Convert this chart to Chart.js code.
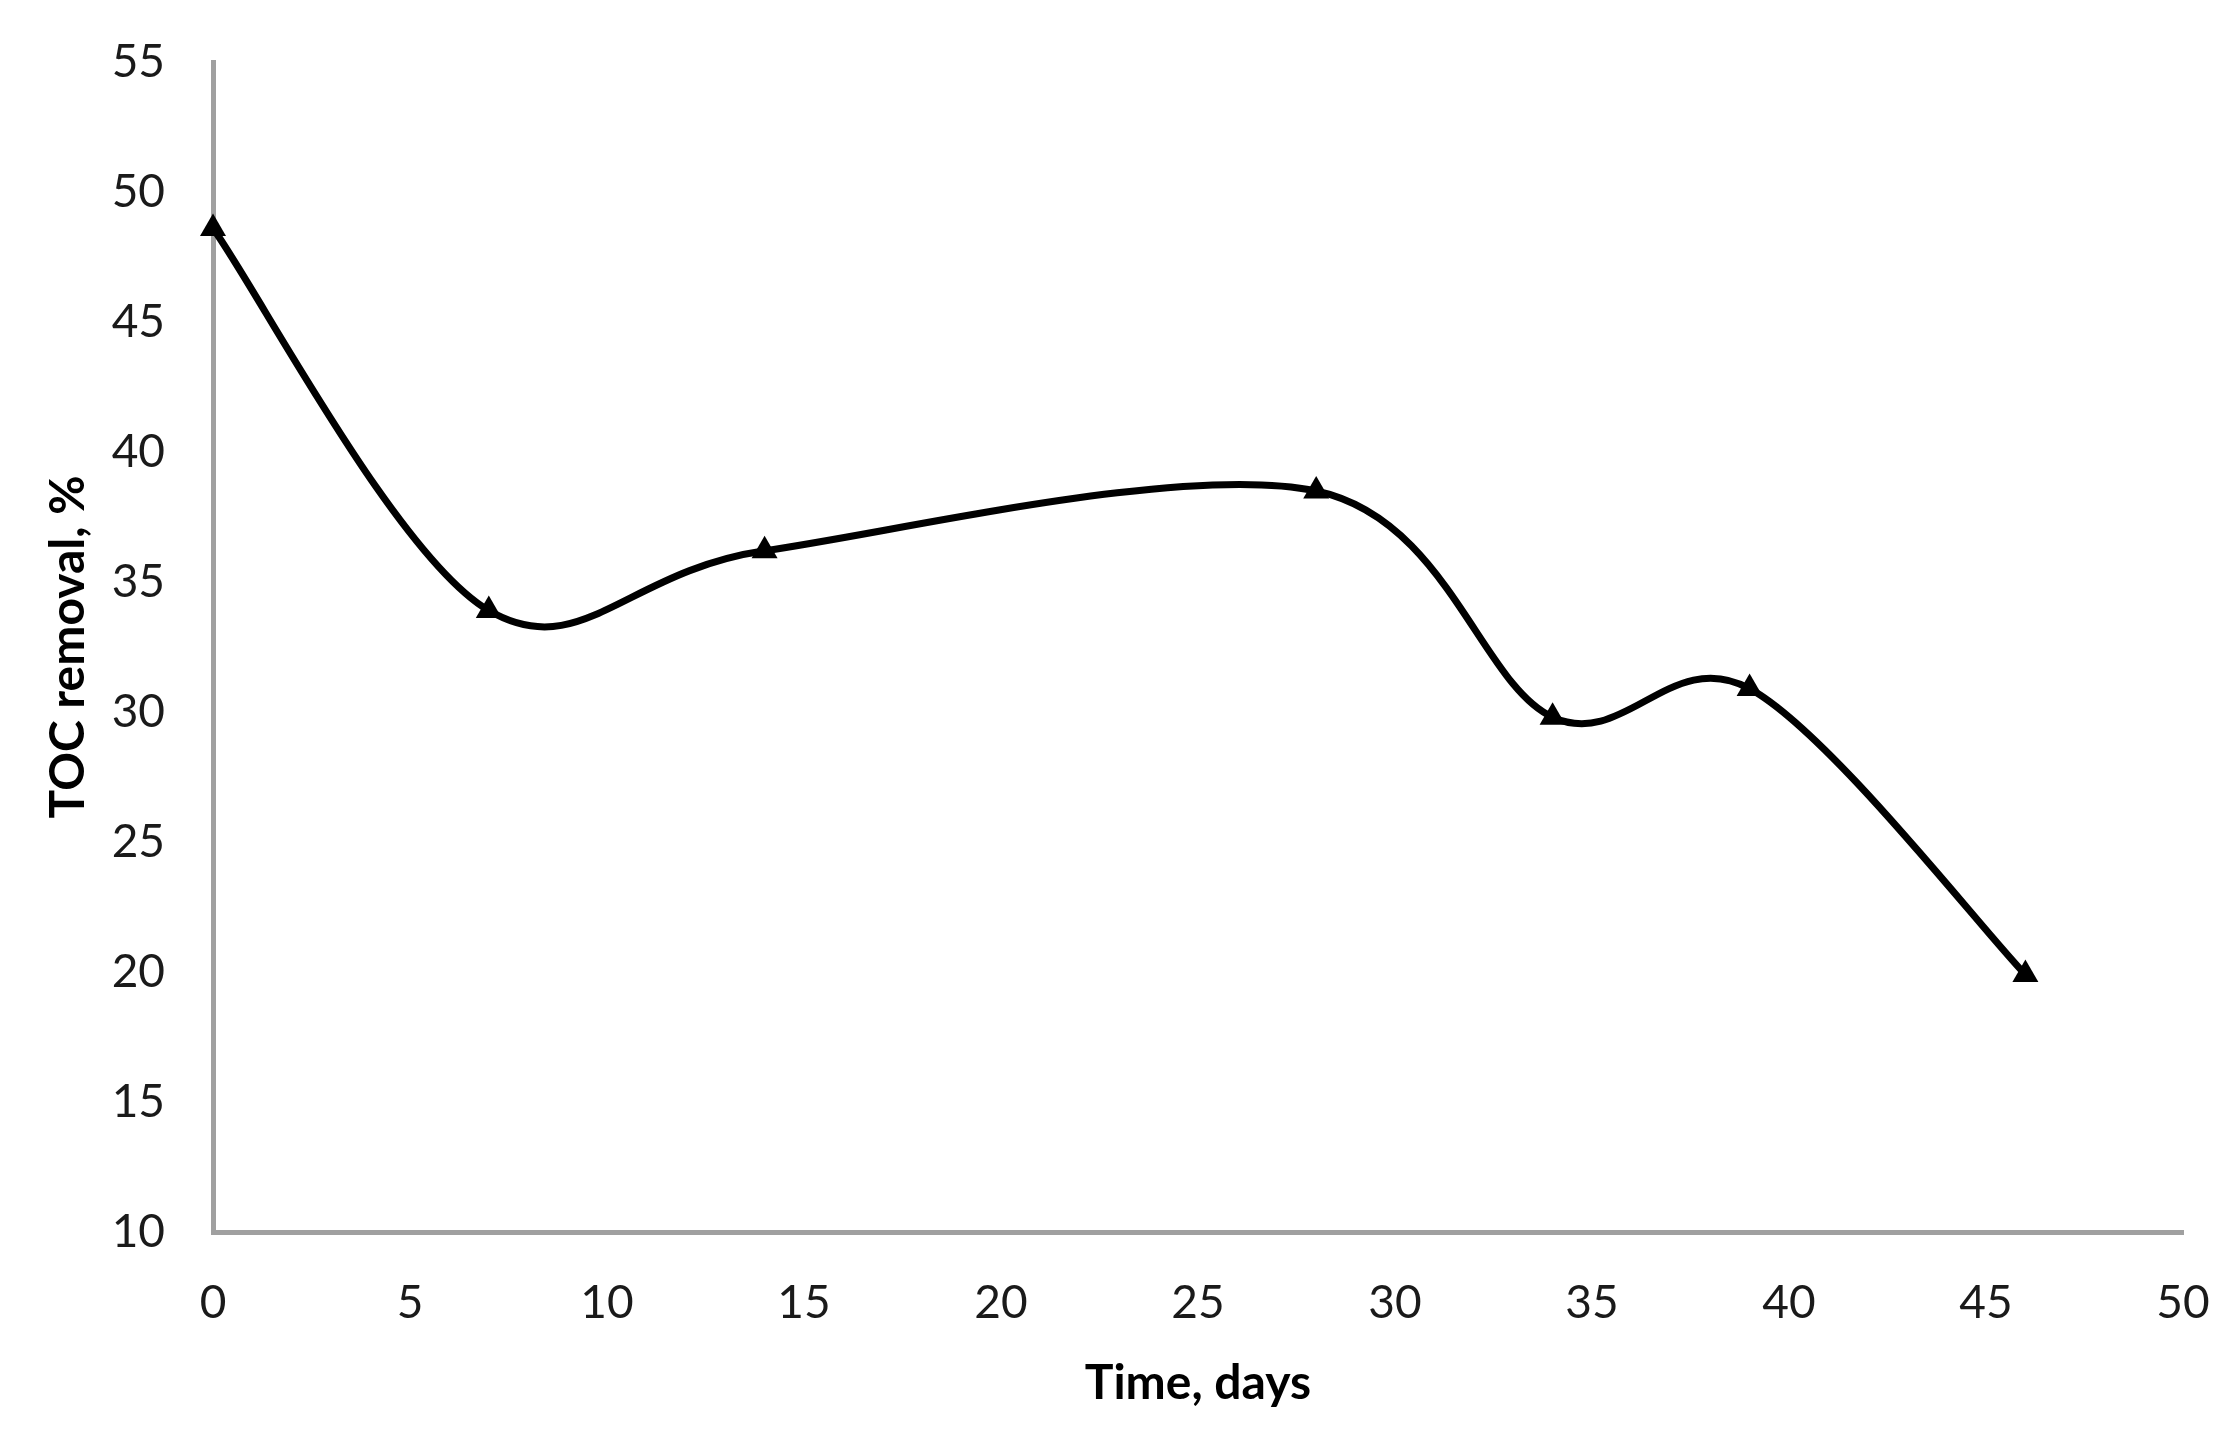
<!DOCTYPE html>
<html>
<head>
<meta charset="utf-8">
<script src="https://cdn.jsdelivr.net/npm/chart.js@4"></script>
<style>
  html, body { margin: 0; padding: 0; background: #fff; }
  canvas { display: block; }
</style>
</head>
<body>
<canvas id="tocChart" width="2239" height="1447"></canvas>
<script>
// data
const days = [0, 7, 14, 28, 34, 39, 46];
const tocRemoval = [48.6, 33.9, 36.2, 38.5, 29.8, 30.9, 19.9];
const xTicks = [0, 5, 10, 15, 20, 25, 30, 35, 40, 45, 50];
const yTicks = [10, 15, 20, 25, 30, 35, 40, 45, 50, 55];

const axisGray = '#a0a0a0';
const fontFamily = 'Lato, "Open Sans", sans-serif';

const points = days.map((d, i) => ({ x: d, y: tocRemoval[i] }));

// Excel-style smoothing: Catmull-Rom tangents, (next - prev) / 6
const excelSmooth = {
  id: 'excelSmooth',
  beforeDatasetDraw(chart, args) {
    const line = args.meta.dataset;
    line.updateControlPoints(chart.chartArea, 'x');
    const pts = args.meta.data;
    const n = pts.length;
    for (let i = 0; i < n; i++) {
      const prev = pts[Math.max(i - 1, 0)];
      const next = pts[Math.min(i + 1, n - 1)];
      const dx = (next.x - prev.x) / 6;
      const dy = (next.y - prev.y) / 6;
      pts[i].cp1x = pts[i].x - dx;
      pts[i].cp1y = pts[i].y - dy;
      pts[i].cp2x = pts[i].x + dx;
      pts[i].cp2y = pts[i].y + dy;
    }
  }
};

new Chart(document.getElementById('tocChart'), {
  type: 'line',
  data: {
    datasets: [{
      label: 'TOC removal',
      data: points,
      borderColor: '#000',
      backgroundColor: '#000',
      borderWidth: 7,
      tension: 0.4,
      pointStyle: 'triangle',
      pointRadius: 15,
      pointBorderWidth: 0,
      pointBackgroundColor: '#000',
      fill: false,
      clip: false
    }]
  },
  plugins: [excelSmooth],
  options: {
    responsive: false,
    animation: false,
    layout: { autoPadding: false, padding: { top: 62, right: 56, left: 0, bottom: 0 } },
    plugins: {
      legend: { display: false },
      tooltip: { enabled: false }
    },
    scales: {
      x: {
        type: 'linear',
        min: 0,
        max: 50,
        afterBuildTicks: s => { s.ticks = xTicks.map(v => ({ value: v })); },
        afterFit: s => { s.height = 215; s.paddingLeft = 0; s.paddingRight = 0; },
        grid: { display: false, drawTicks: false },
        border: { display: true, color: axisGray, width: 5 },
        ticks: { color: '#1a1a1a', padding: 44, font: { family: fontFamily, size: 46 } },
        title: {
          display: true,
          text: 'Time, days',
          color: '#000',
          padding: { top: 0, bottom: 35 },
          font: { family: fontFamily, size: 48, weight: 'bold' }
        }
      },
      y: {
        type: 'linear',
        min: 10,
        max: 55,
        afterBuildTicks: s => { s.ticks = yTicks.map(v => ({ value: v })); },
        afterFit: s => { s.width = 213; s.paddingTop = 0; s.paddingBottom = 0; },
        grid: { display: false, drawTicks: false },
        border: { display: true, color: axisGray, width: 5 },
        ticks: { color: '#1a1a1a', padding: 48, font: { family: fontFamily, size: 46 } },
        title: {
          display: true,
          text: 'TOC removal, %',
          color: '#000',
          padding: { top: 40, bottom: 0 },
          font: { family: fontFamily, size: 48, weight: 'bold' }
        }
      }
    }
  }
});
</script>
</body>
</html>
